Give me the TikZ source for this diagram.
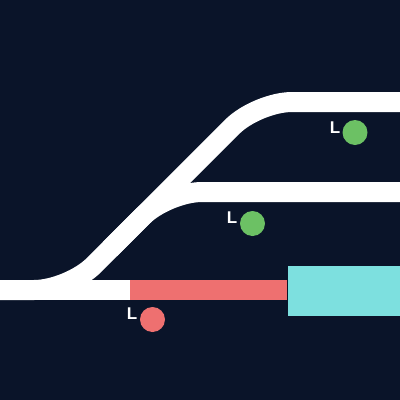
\documentclass[tikz,border=0pt]{standalone}
\usepackage{fontspec}
\setmainfont{Liberation Sans}
\definecolor{bg}{HTML}{0A1429}
\definecolor{sigred}{HTML}{EE7070}
\definecolor{siggreen}{HTML}{6CC164}
\definecolor{platcyan}{HTML}{7DE0DF}
\tikzset{
  track/.style={draw=white, line width=20pt, rounded corners=35pt},
  signal/.style={circle, inner sep=0pt, minimum size=25pt},
  siglabel/.style={text=white, font=\bfseries\fontsize{17}{17}\selectfont, inner sep=0pt}
}
\begin{document}
\begin{tikzpicture}[x=1pt,y=-1pt]
\fill[bg] (0,0) rectangle (400,400);
\useasboundingbox (0,0) rectangle (400,400);
% upper track with diagonal
\draw[track] (0,290) -- (69,290) -- (257,102) -- (400,102);
% middle branch
\draw[track] (110,249) -- (167,192) -- (400,192);
% main track
\draw[draw=white, line width=20pt] (0,290) -- (130,290);
\draw[draw=sigred, line width=20pt] (130,290) -- (288,290);
% platform
\node[draw=bg, line width=1pt, fill=platcyan, minimum width=114pt, minimum height=51pt, inner sep=0pt, anchor=north west] (plat) at (287,265) {};
% signals
\node[signal, fill=siggreen] (s1) at (355,132.5) {};
\node[siglabel] (l1) at (335,127.5) {L};
\node[signal, fill=siggreen] (s2) at (252.5,223.5) {};
\node[siglabel] (l2) at (232,217.5) {L};
\node[signal, fill=sigred] (s3) at (152.5,319.5) {};
\node[siglabel] (l3) at (132,314) {L};
\end{tikzpicture}
\end{document}
